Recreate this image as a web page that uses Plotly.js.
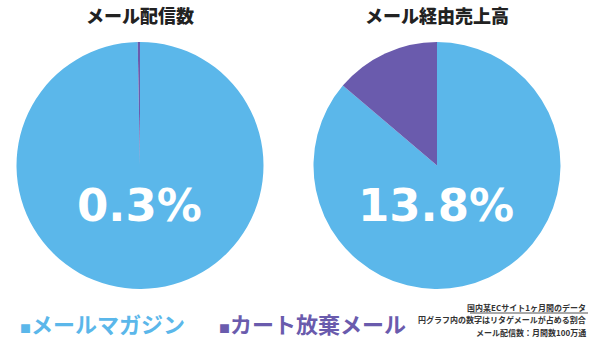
<!DOCTYPE html>
<html>
<head>
<meta charset="utf-8">
<script src="https://cdn.plot.ly/plotly-3.0.1.min.js"></script>
<style>html,body{margin:0;padding:0;background:#fff;}#chart{width:600px;height:348px;}</style>
</head>
<body>
<div id="chart"></div>
<script>
const sliceLabels = ["メールマガジン", "カート放棄メール"];
const sliceColors = ["#5BB7EA", "#6A5BAD"];
const titles = ["メール配信数", "メール経由売上高"];
const sendShare = [99.7, 0.3];
const salesShare = [86.2, 13.8];
const notes = ["国内某ECサイト1ヶ月間のデータ", "円グラフ内の数字はリタゲメールが占める割合", "メール配信数：月間数100万通"];

const W = 600, H = 348;
const jp = '"Noto Sans CJK JP", "Noto Sans", sans-serif';
const pies = [
  {values: sendShare, cx: 140, cy: 165.5, r: 123.5, title: titles[0]},
  {values: salesShare, cx: 437, cy: 165.5, r: 123.5, title: titles[1]}
];

const data = pies.map(p => ({
  type: 'pie',
  labels: sliceLabels,
  values: p.values,
  sort: false,
  direction: 'clockwise',
  rotation: 0,
  textinfo: 'none',
  hoverinfo: 'label+value',
  showlegend: false,
  marker: {colors: sliceColors, line: {width: 0}},
  domain: {
    x: [(p.cx - p.r) / W, (p.cx + p.r) / W],
    y: [(H - p.cy - p.r) / H, (H - p.cy + p.r) / H]
  }
}));

const annotations = [];
pies.forEach(p => {
  annotations.push({
    xref: 'paper', yref: 'paper', x: p.cx / W, y: (H - 15) / H,
    text: p.title, showarrow: false,
    font: {family: jp, size: 18, color: '#222222', weight: 900},
    xanchor: 'center', yanchor: 'middle'
  });
  annotations.push({
    xref: 'paper', yref: 'paper', x: (p.cx - 1) / W, y: (H - 205) / H,
    text: '<b>' + p.values[1].toFixed(1) + '%</b>', showarrow: false,
    font: {family: '"DejaVu Sans", Verdana, sans-serif', size: 45, color: '#ffffff'},
    xanchor: 'center', yanchor: 'middle'
  });
});

const legendX = [18, 217];
sliceLabels.forEach((lab, k) => {
  annotations.push({
    xref: 'paper', yref: 'paper', x: legendX[k] / W, y: (H - 323) / H,
    text: '<span style="font-size:11px">■</span><b>' + lab + '</b>',
    showarrow: false,
    font: {family: jp, size: 22, color: sliceColors[k]},
    xanchor: 'left', yanchor: 'middle'
  });
});

const noteY = [307, 319.5, 332];
notes.forEach((t, i) => {
  annotations.push({
    xref: 'paper', yref: 'paper', x: 588 / W, y: (H - noteY[i]) / H,
    text: '<b>' + t + '</b>', showarrow: false,
    font: {family: jp, size: 8, color: '#333333'},
    xanchor: 'right', yanchor: 'middle'
  });
});

const layout = {
  width: W, height: H,
  margin: {l: 0, r: 0, t: 0, b: 0},
  paper_bgcolor: '#ffffff',
  plot_bgcolor: '#ffffff',
  annotations: annotations,
  shapes: [{
    type: 'line', xref: 'paper', yref: 'paper',
    x0: 470 / W, x1: 588 / W, y0: (H - 313) / H, y1: (H - 313) / H,
    line: {color: '#555555', width: 1}
  }]
};

Plotly.newPlot('chart', data, layout, {displayModeBar: false, staticPlot: true});
</script>
</body>
</html>
